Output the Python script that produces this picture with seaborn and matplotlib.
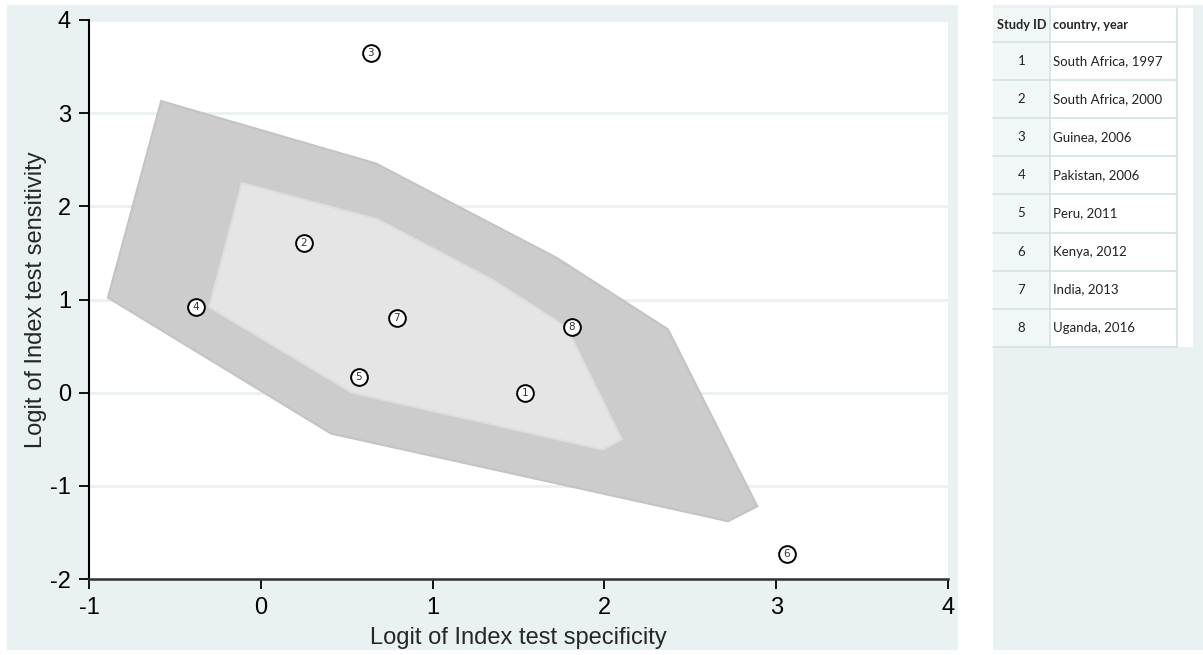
import matplotlib
matplotlib.use("Agg")
import matplotlib.pyplot as plt
import matplotlib.patches as patches
import seaborn as sns
import pandas as pd

sns.set_style("white")
plt.rcParams['font.family'] = ['Liberation Sans Narrow', 'Liberation Sans', 'DejaVu Sans']
plt.rcParams['axes.unicode_minus'] = False

# study points (logit specificity, logit sensitivity)
study_id = [1, 2, 3, 4, 5, 6, 7, 8]
logit_spec = [1.54, 0.25, 0.64, -0.38, 0.57, 3.06, 0.79, 1.81]
logit_sens = [0.00, 1.61, 3.65, 0.92, 0.17, -1.73, 0.80, 0.70]
country_year = ["South Africa, 1997", "South Africa, 2000", "Guinea, 2006",
                "Pakistan, 2006", "Peru, 2011", "Kenya, 2012",
                "India, 2013", "Uganda, 2016"]

# prediction region (outer) and confidence region (inner)
pred_x = [-0.58, 0.67, 1.72, 2.37, 2.89, 2.72, 0.41, -0.89]
pred_y = [3.13, 2.46, 1.45, 0.68, -1.22, -1.38, -0.44, 1.02]
conf_x = [-0.11, 0.68, 1.35, 1.78, 2.10, 1.99, 0.53, -0.30]
conf_y = [2.25, 1.86, 1.21, 0.70, -0.50, -0.61, 0.00, 0.92]

df = pd.DataFrame({"spec": logit_spec, "sens": logit_sens, "id": study_id})

W, H = 1203, 655
fig = plt.figure(figsize=(W / 100, H / 100), dpi=100, facecolor="white")
bg = "#eaf1f3"

# background / table axes in pixel units
tax = fig.add_axes([0, 0, 1, 1], facecolor="none", zorder=0)
tax.set_xlim(0, W)
tax.set_ylim(H, 0)
tax.axis("off")
tax.add_patch(patches.Rectangle((7, 5), 951, 645, facecolor=bg, edgecolor="none"))
tax.add_patch(patches.Rectangle((993, 5), 210, 645, facecolor=bg, edgecolor="none"))

ax = fig.add_axes([89 / W, 76 / H, 859 / W, 559 / H], zorder=2)
ax.set_facecolor("white")

ax.fill(pred_x, pred_y, facecolor="#cccccc", edgecolor="#c4c4c4", lw=1.5, zorder=2)
ax.fill(conf_x, conf_y, facecolor="#e5e5e5", edgecolor="#dedede", lw=1.5, zorder=3)

sns.scatterplot(data=df, x="spec", y="sens", s=145, color="white",
                edgecolor="black", linewidth=1.4, ax=ax, zorder=4, legend=False)
for i, xv, yv in zip(study_id, logit_spec, logit_sens):
    ax.text(xv, yv, str(i), ha="center", va="center", fontsize=7.5,
            family=["DejaVu Sans"], color="#333333", zorder=5)

ax.set_xlim(-1, 4)
ax.set_ylim(-2, 4)
ax.set_xticks([-1, 0, 1, 2, 3, 4])
ax.set_yticks([-2, -1, 0, 1, 2, 3, 4])
ax.yaxis.grid(True, color=bg, lw=2, zorder=0)
ax.set_axisbelow(True)
for s in ["top", "right"]:
    ax.spines[s].set_visible(False)
ax.spines["left"].set_color("black")
ax.spines["bottom"].set_color("#333333")
ax.spines["left"].set_linewidth(1.5)
ax.spines["bottom"].set_linewidth(1.8)
ax.tick_params(axis="both", direction="out", length=7, width=1.3,
               labelsize=17, colors="black", pad=6, left=True, bottom=True)
ax.set_xlabel("Logit of Index test specificity", fontsize=17, labelpad=6)
ax.set_ylabel("Logit of Index test sensitivity", fontsize=17, labelpad=2)

# table on the right
top, head_h, row_h = 8, 34, 38.1
x0, xmid, xend, xwhite = 993, 1050, 1177, 1193
bottom = top + head_h + row_h * len(study_id)
line_c = "#d3e2e4"
tax.add_patch(patches.Rectangle((x0, top), xwhite - x0, bottom - top,
                                facecolor="white", edgecolor="none"))
tax.add_patch(patches.Rectangle((x0, top), xmid - x0, bottom - top,
                                facecolor="#f1f6f7", edgecolor="none"))
tax.plot([xmid, xmid], [top, bottom], color=line_c, lw=1.2)
tax.plot([xend, xend], [top, bottom], color=line_c, lw=1.2)
for k in range(len(study_id) + 1):
    yy = top + head_h + row_h * k
    tax.plot([x0, xend], [yy, yy], color=line_c, lw=1.2)
tfont = ["Lato", "DejaVu Sans"]
tax.text((x0 + xmid) / 2, top + head_h / 2, "Study ID", ha="center", va="center",
         fontsize=9.2, fontweight="bold", family=tfont)
tax.text(xmid + 3, top + head_h / 2, "country, year", ha="left", va="center",
         fontsize=9.2, fontweight="bold", family=tfont)
for k, (sid, cy) in enumerate(zip(study_id, country_year)):
    yy = top + head_h + row_h * (k + 0.5)
    tax.text((x0 + xmid) / 2, yy, str(sid), ha="center", va="center",
             fontsize=9.5, family=tfont, color="#222222")
    tax.text(xmid + 3, yy, cy, ha="left", va="center", fontsize=9.5,
             family=tfont, color="#222222")

fig.savefig("out.png", dpi=100, facecolor=fig.get_facecolor())
